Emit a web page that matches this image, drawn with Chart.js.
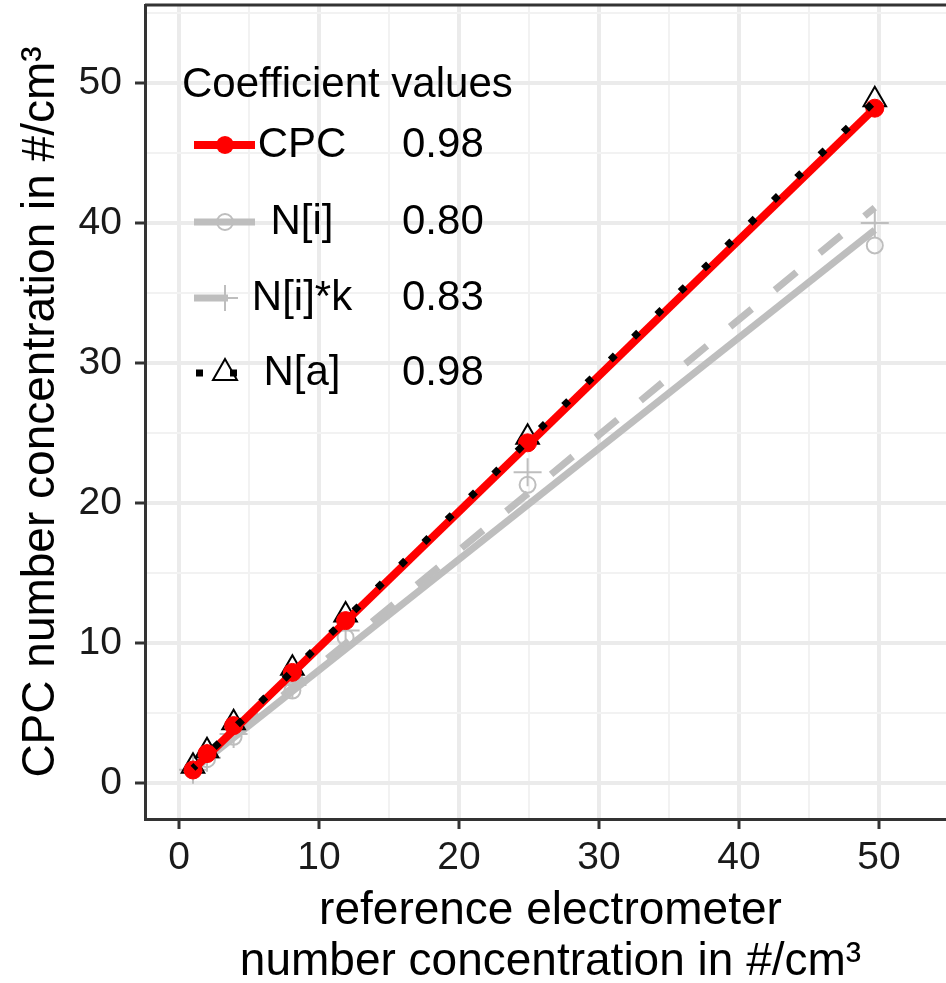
<!DOCTYPE html>
<html>
<head>
<meta charset="utf-8">
<script src="https://cdn.jsdelivr.net/npm/chart.js@4.4.1/dist/chart.umd.min.js"></script>
<style>
  html, body { margin: 0; padding: 0; background: #fff; overflow: hidden; }
  #wrap { width: 960px; height: 983px; }
</style>
</head>
<body>
<div id="wrap"><canvas id="chart" width="960" height="983"></canvas></div>
<script>
// Reference electrometer concentration (x) for every measurement point
const refX = [1, 2, 3.9, 8.1, 11.9, 24.9, 49.7];

// Measured points per method
const cpcY = [0.93, 2.1, 4.1, 7.9, 11.6, 24.3, 48.2];
const niY = [0.9, 1.7, 3.3, 6.6, 10.4, 21.3, 38.4];
const nikY = [0.95, 1.8, 3.5, 7.0, 10.9, 22.2, 40.0];
const naY = [1.2, 2.3, 4.3, 8.2, 12.0, 24.7, 48.8];

// Straight fit lines (start / end of the fitted range)
const fitX = [1, 49.7];
const cpcFit = [0.95, 48.2];
const niFit = [0.93, 39.5];
const nikFit = [0.97, 41.1];
const naFit = [1.05, 48.7];

// Legend entries
const seriesNames = ['CPC', 'N[i]', 'N[i]*k', 'N[a]'];
const coefValues = ['0.98', '0.80', '0.83', '0.98'];

const xTickValues = [0, 10, 20, 30, 40, 50];
const yTickValues = [0, 10, 20, 30, 40, 50];

const RED = '#ff0000';
const GREY = '#bebebe';
const FONT = '"Liberation Sans", Arial, sans-serif';

function toPoints(xs, ys) {
    return xs.map((x, i) => ({ x: x, y: ys[i] }));
}

function isMajor(v, list) {
    return list.indexOf(v) !== -1;
}

// no extra room for the outer tick labels, the panel keeps its size
function noPadding(scale) {
    scale.paddingTop = 0;
    scale.paddingBottom = 0;
    scale.paddingLeft = 0;
    scale.paddingRight = 0;
}

// Panel frame (top edge) and the legend drawn inside the panel
const panelPlugin = {
    id: 'panel',
    afterDraw(chart) {
        const ctx = chart.ctx;
        const a = chart.chartArea;
        ctx.save();
        ctx.strokeStyle = '#333333';
        ctx.lineWidth = 3;
        ctx.beginPath();
        ctx.moveTo(a.left, a.top);
        ctx.lineTo(a.right + 5, a.top);
        ctx.stroke();

        // legend
        ctx.fillStyle = '#000';
        ctx.font = '42px ' + FONT;
        ctx.textBaseline = 'middle';
        ctx.textAlign = 'left';
        ctx.fillText('Coefficient values', 182, 85);

        const rows = [145, 222, 298, 373];
        const keyL = 194, keyR = 255, keyC = 225;
        ctx.lineCap = 'butt';

        // CPC key
        ctx.strokeStyle = RED;
        ctx.lineWidth = 8;
        ctx.beginPath();
        ctx.moveTo(keyL, rows[0]);
        ctx.lineTo(keyR, rows[0]);
        ctx.stroke();
        ctx.fillStyle = RED;
        ctx.beginPath();
        ctx.arc(keyC, rows[0], 9, 0, Math.PI * 2);
        ctx.fill();

        // N[i] key
        ctx.strokeStyle = GREY;
        ctx.lineWidth = 7;
        ctx.beginPath();
        ctx.moveTo(keyL, rows[1]);
        ctx.lineTo(keyR, rows[1]);
        ctx.stroke();
        ctx.lineWidth = 2;
        ctx.beginPath();
        ctx.arc(keyC, rows[1], 8, 0, Math.PI * 2);
        ctx.stroke();

        // N[i]*k key
        ctx.lineWidth = 7;
        ctx.beginPath();
        ctx.moveTo(keyL, rows[2]);
        ctx.lineTo(228, rows[2]);
        ctx.stroke();
        ctx.lineWidth = 2;
        ctx.beginPath();
        ctx.moveTo(keyC - 13, rows[2]);
        ctx.lineTo(keyC + 13, rows[2]);
        ctx.moveTo(keyC, rows[2] - 13);
        ctx.lineTo(keyC, rows[2] + 13);
        ctx.stroke();

        // N[a] key
        ctx.fillStyle = '#000';
        ctx.fillRect(196, rows[3] - 3.5, 7, 7);
        ctx.fillRect(230, rows[3] - 3.5, 7, 7);
        ctx.strokeStyle = '#000';
        ctx.lineWidth = 2;
        ctx.beginPath();
        ctx.moveTo(keyC, rows[3] - 14);
        ctx.lineTo(keyC + 12, rows[3] + 7);
        ctx.lineTo(keyC - 12, rows[3] + 7);
        ctx.closePath();
        ctx.stroke();

        ctx.fillStyle = '#000';
        ctx.font = '42px ' + FONT;
        seriesNames.forEach((name, i) => {
            ctx.textAlign = 'center';
            ctx.fillText(name, 302, rows[i]);
            ctx.textAlign = 'left';
            ctx.fillText(coefValues[i], 402, rows[i]);
        });
        ctx.restore();
    }
};

const ctx = document.getElementById('chart');
new Chart(ctx, {
    type: 'scatter',
    data: {
        datasets: [
            {
                label: 'N[i] fit',
                data: toPoints(fitX, niFit),
                showLine: true,
                borderColor: GREY,
                borderWidth: 7,
                pointRadius: 0,
                order: 10
            },
            {
                label: 'N[i]*k fit',
                data: toPoints(fitX, nikFit),
                showLine: true,
                borderColor: GREY,
                borderWidth: 7,
                borderDash: [28, 30],
                pointRadius: 0,
                order: 9
            },
            {
                label: 'N[i]',
                data: toPoints(refX, niY),
                pointStyle: 'circle',
                pointRadius: 8,
                borderWidth: 2,
                borderColor: GREY,
                backgroundColor: 'rgba(0,0,0,0)',
                order: 8
            },
            {
                label: 'N[i]*k',
                data: toPoints(refX, nikY),
                pointStyle: 'cross',
                pointRadius: 14,
                borderWidth: 2,
                borderColor: GREY,
                order: 7
            },
            {
                label: 'N[a]',
                data: toPoints(refX, naY),
                pointStyle: 'triangle',
                pointRadius: 13,
                borderWidth: 2,
                borderColor: '#000',
                backgroundColor: 'rgba(0,0,0,0)',
                order: 6
            },
            {
                label: 'CPC fit',
                data: toPoints(fitX, cpcFit),
                showLine: true,
                borderColor: RED,
                borderWidth: 8,
                pointRadius: 0,
                order: 5
            },
            {
                label: 'CPC',
                data: toPoints(refX, cpcY),
                pointStyle: 'circle',
                pointRadius: 9,
                borderWidth: 1,
                borderColor: RED,
                backgroundColor: RED,
                order: 4
            },
            {
                label: 'N[a] fit',
                data: toPoints(fitX, naFit),
                showLine: true,
                borderColor: '#000',
                borderWidth: 7,
                borderDash: [7, 25.6],
                borderDashOffset: 3,
                pointRadius: 0,
                order: 1
            }
        ]
    },
    options: {
        responsive: false,
        animation: false,
        layout: { autoPadding: false, padding: { top: 5, right: 4, bottom: 0, left: 0 } },
        plugins: {
            legend: { display: false },
            tooltip: { enabled: false }
        },
        scales: {
            x: {
                type: 'linear',
                min: -2.4286,
                max: 55.5,
                afterFit(scale) { scale.height = 164; noPadding(scale); },
                border: { display: true, color: '#333333', width: 3 },
                grid: {
                    color: c => isMajor(c.tick.value, xTickValues) ? '#ebebeb' : '#f2f2f2',
                    lineWidth: c => isMajor(c.tick.value, xTickValues) ? 4 : 2,
                    tickColor: c => isMajor(c.tick.value, xTickValues) ? '#333333' : 'rgba(0,0,0,0)',
                    tickWidth: 3,
                    tickLength: 10
                },
                ticks: {
                    stepSize: 5,
                    includeBounds: false,
                    autoSkip: false,
                    maxRotation: 0,
                    padding: 6,
                    color: '#1a1a1a',
                    font: { family: FONT, size: 39 },
                    callback: v => isMajor(v, xTickValues) ? String(v) : ''
                },
                title: {
                    display: true,
                    text: ['reference electrometer', 'number concentration in #/cm³'],
                    color: '#000',
                    font: { family: FONT, size: 46, lineHeight: 1.11 },
                    padding: { top: 0, bottom: -5 }
                }
            },
            y: {
                type: 'linear',
                min: -2.5714,
                max: 55.5714,
                afterFit(scale) { scale.width = 145; noPadding(scale); },
                border: { display: true, color: '#333333', width: 3 },
                grid: {
                    color: c => isMajor(c.tick.value, yTickValues) ? '#ebebeb' : '#f2f2f2',
                    lineWidth: c => isMajor(c.tick.value, yTickValues) ? 4 : 2,
                    tickColor: c => isMajor(c.tick.value, yTickValues) ? '#333333' : 'rgba(0,0,0,0)',
                    tickWidth: 3,
                    tickLength: 10
                },
                ticks: {
                    stepSize: 5,
                    includeBounds: false,
                    autoSkip: false,
                    padding: 13,
                    color: '#1a1a1a',
                    font: { family: FONT, size: 39 },
                    callback: v => isMajor(v, yTickValues) ? String(v) : ''
                },
                title: {
                    display: true,
                    text: 'CPC number concentration in #/cm³',
                    color: '#000',
                    font: { family: FONT, size: 46, lineHeight: 1.2 },
                    padding: { top: 14, bottom: 0 }
                }
            }
        }
    },
    plugins: [panelPlugin]
});
</script>
</body>
</html>
